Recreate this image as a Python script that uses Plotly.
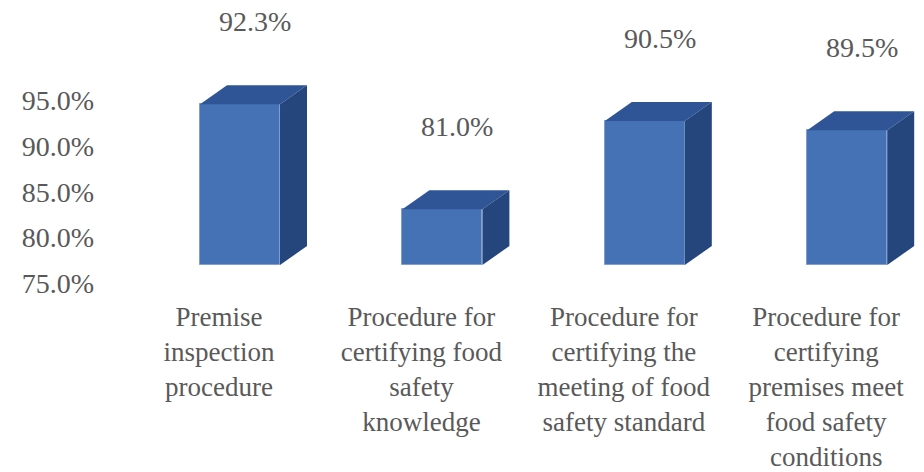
import plotly.graph_objects as go

categories = [
    "Premise<br>inspection<br>procedure",
    "Procedure for<br>certifying food<br>safety<br>knowledge",
    "Procedure for<br>certifying the<br>meeting of food<br>safety standard",
    "Procedure for<br>certifying<br>premises meet<br>food safety<br>conditions",
]
values = [92.3, 81.0, 90.5, 89.5]
tick_values = [75, 80, 85, 90, 95]
tick_labels = ["75.0%", "80.0%", "85.0%", "90.0%", "95.0%"]

W, H = 924, 472
FONT = "Liberation Serif, Times New Roman, DejaVu Serif, serif"
TXT = "#595959"
FRONT = "#4472B4"
TOP = "#2F5597"
SIDE = "#24467C"
EDGE = "#7F9ED3"

# geometry (in axis units)
base = 75
px_per_cat = 202.4
px_per_unit = 9.29
bar_shift = 21 / px_per_cat
bar_w = 80 / px_per_cat
dx = 27 / px_per_cat
dy = 19 / px_per_unit
label_shift = bar_shift + 15 / px_per_cat
label_off = 8.9

L = 94
plot_w = W - L
x0 = -(219 - L) / px_per_cat
x1 = x0 + plot_w / px_per_cat
y_dom0 = (H - 265) / H
y_rng = [base, base + 265 / px_per_unit]

t_scale = 9.2
t_bottom = 284
y2_dom = [(H - t_bottom) / H, 1.0]
y2_rng = [base - 0.05, base + t_bottom / t_scale]

xs = list(range(len(categories)))
fig = go.Figure()
fig.add_trace(go.Bar(
    x=[i + bar_shift for i in xs], y=[v - base for v in values], base=base,
    width=bar_w, marker=dict(color=FRONT, line=dict(color=EDGE, width=1)),
    hoverinfo="skip", showlegend=False,
))
fig.add_trace(go.Scatter(
    x=xs, y=values, yaxis="y2", mode="markers", marker=dict(opacity=0),
    hoverinfo="skip", showlegend=False,
))

shapes = []
for i, v in zip(xs, values):
    xl = i + bar_shift - bar_w / 2
    xr = i + bar_shift + bar_w / 2
    top = f"M {xl},{v} L {xr},{v} L {xr+dx},{v+dy} L {xl+dx},{v+dy} Z"
    side = f"M {xr},{base} L {xr},{v} L {xr+dx},{v+dy} L {xr+dx},{base+dy} Z"
    shapes.append(dict(type="path", path=top, xref="x", yref="y",
                       fillcolor=TOP, line=dict(width=0)))
    shapes.append(dict(type="path", path=side, xref="x", yref="y",
                       fillcolor=SIDE, line=dict(width=0)))

annotations = []
for i, v in zip(xs, values):
    annotations.append(dict(
        x=i + label_shift, y=v + label_off, xref="x", yref="y",
        text=f"{v:.1f}%", showarrow=False, yanchor="middle", xanchor="center",
        font=dict(family=FONT, size=28, color=TXT),
    ))

fig.update_layout(
    width=W, height=H,
    margin=dict(l=L, r=0, t=0, b=0),
    paper_bgcolor="white", plot_bgcolor="rgba(0,0,0,0)",
    font=dict(family=FONT, size=28, color=TXT),
    shapes=shapes, annotations=annotations,
    bargap=0,
    xaxis=dict(range=[x0, x1], tickvals=xs, ticktext=categories,
               showgrid=False, zeroline=False, showline=False, ticks="",
               tickangle=0, automargin=False, ticklabelstandoff=33,
               tickfont=dict(family=FONT, size=27, color=TXT)),
    yaxis=dict(domain=[y_dom0, 1.0], range=y_rng, showticklabels=False,
               showgrid=False, zeroline=False, showline=False, ticks="",
               automargin=False),
    yaxis2=dict(domain=y2_dom, range=y2_rng, anchor="free", position=0,
                tickvals=tick_values, ticktext=tick_labels,
                showgrid=False, zeroline=False, showline=False, ticks="",
                automargin=False,
                tickfont=dict(family=FONT, size=28, color=TXT)),
    showlegend=False,
)

fig.write_html("out.html", config={"displayModeBar": False},
               post_script="document.body.style.margin='0';")
